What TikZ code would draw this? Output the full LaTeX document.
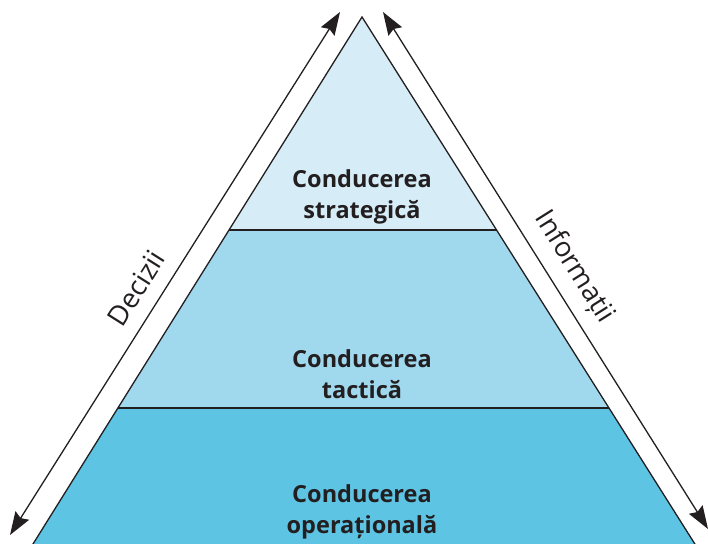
\documentclass[tikz,border=0pt]{standalone}
\usepackage{fontspec}
\setmainfont{Open Sans}
\usetikzlibrary{arrows.meta}
\definecolor{tierTop}{RGB}{214,237,247}
\definecolor{tierMid}{RGB}{160,216,238}
\definecolor{tierLow}{RGB}{93,196,228}
\definecolor{ink}{RGB}{35,31,32}
\tikzset{
  tier/.style={draw=ink, line width=1.3pt, line join=miter},
  tiertext/.style={font=\fontsize{23.5}{31.5}\selectfont\bfseries, text=ink, align=center},
  flow/.style={draw=ink, line width=1.3pt, {Stealth[length=23pt,width=16pt,inset=3pt]}-{Stealth[length=23pt,width=16pt,inset=3pt]}},
  sidelabel/.style={font=\fontsize{27.5}{30}\selectfont, text=ink}
}
\begin{document}
\begin{tikzpicture}[x=1pt,y=-1pt]
\useasboundingbox (0,0) rectangle (708,543);
\clip (0,0) rectangle (708,543);
% pyramid outline
\coordinate (apex) at (362,17);
\coordinate (l1) at (229,230);
\coordinate (r1) at (497,230);
\coordinate (l2) at (117.5,408);
\coordinate (r2) at (609,408);
\coordinate (l3) at (23,560);
\coordinate (r3) at (705,560);
% tiers
\fill[tierLow] (l2) -- (r2) -- (r3) -- (l3) -- cycle;
\fill[tierMid] (l1) -- (r1) -- (r2) -- (l2) -- cycle;
\fill[tierTop] (apex) -- (r1) -- (l1) -- cycle;
\draw[tier] (l3) -- (apex) -- (r3);
\draw[tier] (l1) -- (r1);
\draw[tier] (l2) -- (r2);
% labels of the tiers
\node[tiertext] (strat) at (362,197) {Conducerea\\strategică};
\node[tiertext] (tact) at (362,374) {Conducerea\\tactică};
\node[tiertext] (oper) at (362,512) {Conducerea\\operațională};
% side arrows
\coordinate (decLow) at (10,535);
\coordinate (decHigh) at (340,12);
\coordinate (infHigh) at (383,12);
\coordinate (infLow) at (708,529);
\draw[flow] (decLow) -- (decHigh);
\draw[flow] (infHigh) -- (infLow);
\node[sidelabel, rotate=57.7] (dec) at (136,288) {Decizii};
\node[sidelabel, rotate=-57.8] (inf) at (574,267) {Informații};
\end{tikzpicture}
\end{document}
